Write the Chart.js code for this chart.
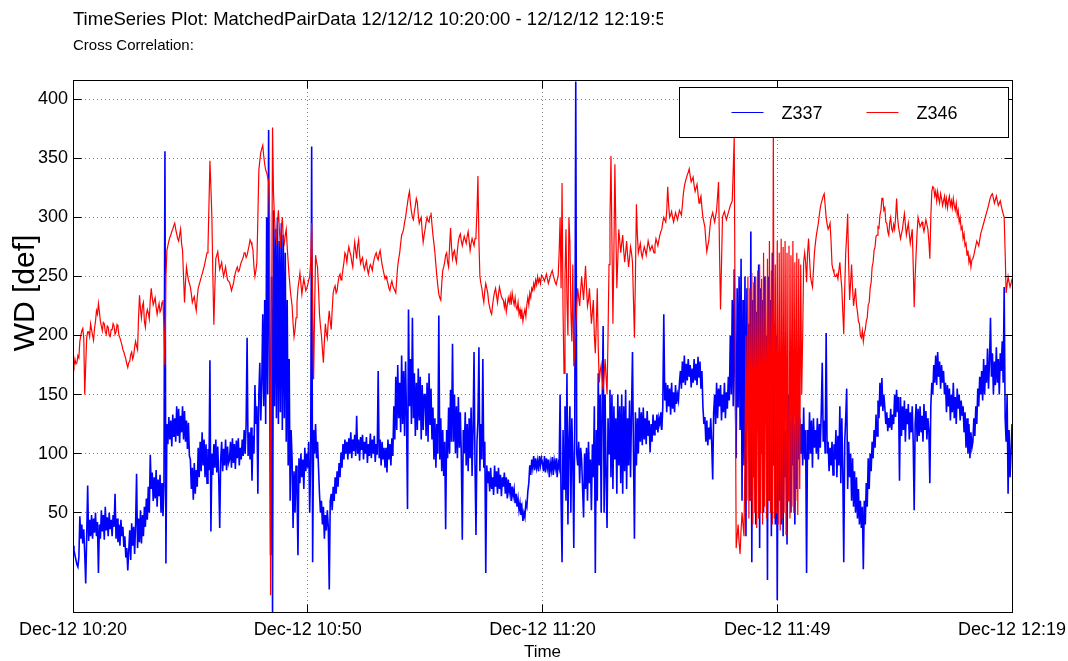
<!DOCTYPE html>
<html>
<head>
<meta charset="utf-8">
<script src="https://cdn.jsdelivr.net/npm/chart.js@4.4.1/dist/chart.umd.min.js"></script>
<style>
  html, body { margin: 0; padding: 0; background: #ffffff; }
  canvas { display: block; }
</style>
</head>
<body>
<canvas id="plot" width="1068" height="661"></canvas>
<script>
// Sampling interval of both records, in minutes after 10:20:00
const STEP_MIN = 0.125;

// Wind direction of station Z337 (one row = 5 minutes)
const z337 = [
  22,18,14,10,6,4,12,47,28,40,24,36,15,-10,30,73,26,44,30,48,28,45,33,50,30,42,-1,40,28,52,34,48,27,55,35,46,30,50,36,44,
  30,48,38,66,28,45,25,40,22,44,30,38,21,30,12,20,1,18,35,10,41,22,38,15,40,83,20,45,25,52,24,48,30,55,38,62,44,72,50,99,
  70,84,60,80,62,86,55,78,64,82,50,75,47,72,356,7,125,108,131,112,128,106,133,114,130,110,140,115,138,109,132,118,140,112,136,110,128,104,126,98,
  95,70,88,61,92,66,86,72,105,80,110,85,118,90,112,80,108,75,104,86,179,34,100,82,108,88,112,84,106,80,37,95,110,85,104,90,112,86,106,92,
  95,110,88,113,92,108,87,111,96,113,90,105,95,112,98,120,100,125,198,98,118,95,122,77,115,100,158,125,140,66,150,177,128,160,218,140,230,125,300,150,
  374,180,14,250,-34,306,140,290,130,300,125,280,135,295,120,285,130,270,110,230,90,180,60,120,95,37,85,50,90,70,14,96,75,100,80,95,70,105,85,100,
  88,110,50,95,360,8,120,100,125,96,110,88,66,50,60,40,55,28,48,35,52,38,-15,60,66,52,72,60,80,66,85,72,92,80,101,88,108,95,112,100,
  110,95,113,100,118,96,112,102,116,98,132,100,112,94,114,103,116,95,110,100,114,92,108,98,117,96,112,100,115,93,108,99,170,96,112,90,110,95,105,88,
  105,84,112,95,108,90,113,98,140,112,165,120,175,130,160,118,183,125,170,115,178,130,53,222,140,180,125,215,130,168,115,160,120,172,128,165,112,158,120,150,
  150,115,160,110,168,125,155,112,139,95,130,88,125,100,217,95,130,85,120,81,110,36,120,96,139,100,154,110,193,110,150,100,140,96,148,105,135,98,27,120,
  100,135,90,125,85,130,96,139,81,120,186,90,31,110,128,190,85,125,95,180,88,110,-1,90,75,85,68,88,70,80,65,90,72,85,66,88,70,82,64,80,
  72,84,66,80,62,78,68,75,60,72,64,70,58,66,55,62,52,58,48,54,43,50,46,58,55,68,75,90,82,95,88,98,86,96,88,94,85,98,90,96,
  92,85,98,84,96,88,95,80,92,86,97,82,94,88,96,80,92,88,150,60,8,120,70,140,60,168,40,110,140,50,130,95,20,130,415,100,90,110,75,105,
  95,70,46,100,70,105,60,110,75,95,52,108,80,140,-1,120,60,168,90,150,50,140,208,50,150,80,37,130,100,154,80,150,70,140,95,130,66,150,90,140,
  75,150,66,140,85,154,70,130,90,145,80,135,186,100,28,135,90,130,100,139,110,135,107,139,112,130,108,136,115,128,101,125,110,133,116,128,120,133,118,130,
  125,135,120,140,218,145,160,135,158,140,155,133,160,138,152,135,158,142,150,145,160,170,155,178,160,183,158,176,162,180,165,175,156,172,160,180,162,176,158,182,
  165,178,155,170,140,125,131,110,128,107,122,112,130,108,78,135,150,125,160,130,155,140,158,128,150,135,160,130,152,138,165,145,200,150,230,140,256,160,96,240,
  139,250,120,265,60,230,90,250,30,240,150,210,60,288,8,230,80,250,40,220,120,260,20,240,100,230,50,250,140,200,-7,250,60,230,30,270,90,210,40,200,
  -24,150,60,154,40,130,30,140,80,120,23,150,60,130,50,140,90,125,40,135,70,150,95,130,100,125,90,139,95,120,-1,120,95,135,100,128,88,130,105,120,
  100,130,95,125,105,135,177,110,128,100,202,100,110,85,105,90,110,82,108,95,120,80,115,90,140,75,130,85,8,110,130,155,70,110,80,100,60,96,55,85,
  50,80,45,70,40,60,37,55,2,60,40,75,55,96,70,100,85,110,96,120,105,133,115,145,130,160,140,164,136,150,139,125,135,119,130,122,138,120,133,125,
  150,131,154,135,148,77,148,115,140,120,145,110,138,125,142,112,135,118,140,110,52,125,142,110,138,115,140,118,132,110,142,120,136,112,130,120,75,140,160,150,
  175,160,183,158,186,165,178,155,175,160,170,150,160,135,158,140,155,128,150,135,160,130,148,125,155,138,150,128,145,132,140,118,135,105,130,100,125,96,118,105,
  110,130,115,140,125,155,140,165,150,170,145,180,150,175,160,189,155,178,215,165,185,150,178,158,190,160,180,150,185,170,195,160,241,130,110,150,66,120,80,100,
  125
];

// Wind direction of station Z346 (one row = 5 minutes)
const z346 = [
  178,174,180,176,177,183,181,195,200,204,206,198,150,175,198,203,203,199,210,205,200,196,206,212,221,218,227,220,212,208,204,211,210,203,201,208,207,200,199,205,
  205,210,208,201,203,209,207,200,198,195,192,188,186,183,180,176,173,177,178,184,186,180,183,190,195,191,188,215,234,222,215,225,228,212,207,218,222,219,214,230,
  240,232,226,229,232,224,218,223,227,220,222,228,230,205,175,250,272,276,280,283,285,288,290,293,295,290,286,282,280,285,290,278,272,250,228,245,258,252,247,244,
  241,235,228,231,233,226,221,232,240,243,246,249,252,255,258,262,266,270,274,310,348,325,300,250,209,240,265,268,271,263,256,259,262,255,250,254,258,252,247,246,
  245,242,238,241,244,249,253,256,258,254,255,259,262,264,266,270,270,266,268,272,276,281,279,276,272,258,250,255,262,300,340,348,355,358,361,352,345,340,338,334,
  330,300,-20,200,376,320,300,285,280,295,306,290,275,290,300,282,278,285,290,275,262,250,240,232,225,210,199,205,215,228,240,246,253,244,235,242,248,243,238,240,
  243,247,250,262,295,230,163,220,268,262,258,240,218,208,200,188,177,195,210,202,198,212,221,212,205,222,236,240,242,236,238,245,250,252,247,250,256,262,270,268,
  262,270,275,271,268,262,258,270,279,272,265,276,281,268,261,264,266,259,256,260,263,256,252,257,260,258,255,261,265,268,270,266,264,269,272,266,260,256,252,248,
  250,247,244,240,238,243,246,242,240,238,236,248,259,265,270,278,285,287,290,296,300,306,312,318,322,312,305,300,298,305,310,316,313,302,295,298,300,288,279,285,
  290,296,300,297,296,301,304,294,285,278,270,260,250,242,235,232,230,244,255,258,262,268,270,262,258,275,291,275,265,270,272,266,262,272,280,284,286,280,276,280,
  284,281,278,284,288,280,272,278,282,279,276,282,285,305,335,280,250,244,240,233,228,238,244,240,236,228,224,220,218,226,232,237,240,234,228,235,241,237,233,231,
  230,224,229,220,226,232,228,234,226,236,230,226,232,224,222,228,218,222,214,220,212,218,222,216,226,232,226,236,232,240,238,244,240,247,243,250,245,248,244,251,
  250,248,246,249,252,248,244,247,250,253,255,251,248,245,243,247,250,270,300,240,329,220,168,250,290,230,200,300,280,220,195,260,174,190,210,225,240,232,225,238,
  250,240,230,245,259,240,225,230,240,225,210,220,230,200,185,210,240,190,160,170,175,162,154,166,180,165,150,200,260,300,352,280,210,270,345,290,240,265,290,280,
  270,278,285,272,262,270,280,268,258,266,275,270,262,230,198,250,311,285,270,274,278,270,266,271,275,272,268,274,280,276,272,274,276,273,270,276,282,279,276,281,
  285,288,290,296,300,298,296,305,326,310,300,302,305,300,296,300,304,301,298,302,306,304,302,310,320,326,330,333,336,338,341,335,330,332,334,327,322,325,328,320,
  312,315,318,308,300,296,292,280,271,276,280,290,298,301,304,300,296,301,306,318,330,270,222,260,300,303,305,301,298,301,304,307,310,312,314,340,368,200,20,30,
  40,25,15,35,50,40,30,100,200,60,250,45,240,60,253,40,245,50,250,37,255,45,260,50,248,40,270,55,250,45,265,60,280,50,255,40,375,45,260,50,
  280,40,270,35,282,45,275,50,280,31,270,60,276,45,268,55,280,50,262,60,270,48,265,70,260,150,200,262,270,262,245,270,282,265,250,245,241,255,270,278,
  285,290,295,302,308,312,315,318,320,310,300,294,290,292,295,280,260,256,253,250,250,252,248,255,262,250,240,220,201,240,270,285,303,260,230,245,260,240,225,232,
  240,226,220,212,210,200,198,204,195,202,205,212,215,226,228,240,245,258,262,272,275,284,285,292,291,302,306,316,316,306,308,296,295,288,285,296,300,290,288,294,
  290,300,316,300,292,287,282,286,290,297,303,294,285,290,295,286,278,284,290,260,224,250,270,288,300,296,292,294,296,292,288,293,298,294,290,280,265,300,322,326,
  325,318,322,314,322,316,312,320,316,310,314,318,310,316,308,314,318,310,314,308,316,310,306,312,302,306,296,300,290,292,282,286,276,278,268,272,262,266,258,264,
  265,268,272,276,280,278,276,281,286,289,292,295,298,301,304,307,310,314,317,319,320,316,312,315,318,314,310,312,314,310,306,303,300,270,236,243,250,245,241,244,
  248
];

const seriesNames = ['Z337', 'Z346'];
const seriesColors = ['#0000ff', '#ff0000'];

// Axis ticks
const xTickMinutes = [0, 30, 60, 90, 120];
const xTickLabels = ['Dec-12 10:20', 'Dec-12 10:50', 'Dec-12 11:20', 'Dec-12 11:49', 'Dec-12 12:19'];
const yTickValues = [50, 100, 150, 200, 250, 300, 350, 400];
const yLimits = [-34.1, 416.3];
const xLimits = [0, 120];

const titleText = 'TimeSeries Plot: MatchedPairData 12/12/12 10:20:00 - 12/12/12 12:19:59';
const subtitleText = 'Cross Correlation:';
const yAxisTitle = 'WD [def]';
const xAxisTitle = 'Time';

const FONT = '"Liberation Sans", Arial, Helvetica, sans-serif';

function toPoints(values) {
  return values.map((v, i) => ({ x: i * STEP_MIN, y: v }));
}

// Snap a 1px line to the pixel grid
function crisp(v) {
  return Math.round(v - 0.5) + 0.5;
}

// Axes box with inward tick marks, legend box and the text above / beside the axes
const framePlugin = {
  id: 'frame',
  afterDraw(chart) {
    const { ctx, chartArea: a, scales } = chart;
    const xs = scales.x, ys = scales.y;
    const L = crisp(a.left), R = crisp(a.right), T = crisp(a.top), B = crisp(a.bottom);
    const tickLen = 8;

    ctx.save();
    ctx.strokeStyle = '#000000';
    ctx.lineWidth = 1;
    ctx.beginPath();
    xs.ticks.forEach(t => {
      const px = crisp(xs.getPixelForValue(t.value));
      ctx.moveTo(px, B); ctx.lineTo(px, B - tickLen);
      ctx.moveTo(px, T); ctx.lineTo(px, T + tickLen);
    });
    ys.ticks.forEach(t => {
      const py = crisp(ys.getPixelForValue(t.value));
      ctx.moveTo(L, py); ctx.lineTo(L + tickLen, py);
      ctx.moveTo(R, py); ctx.lineTo(R - tickLen, py);
    });
    ctx.stroke();
    ctx.strokeRect(L, T, R - L, B - T);

    // Legend in the upper right corner of the axes
    const lx = R - 333, ly = T + 7, lw = 329, lh = 50;
    ctx.fillStyle = '#ffffff';
    ctx.fillRect(lx, ly, lw, lh);
    ctx.strokeRect(lx, ly, lw, lh);
    ctx.font = '18px ' + FONT;
    ctx.textAlign = 'left';
    ctx.textBaseline = 'alphabetic';
    const itemX = [lx + 52, lx + 187];
    chart.data.datasets.forEach((ds, i) => {
      const sx = itemX[i];
      const sy = ly + 25;
      ctx.strokeStyle = ds.borderColor;
      ctx.lineWidth = 1;
      ctx.beginPath();
      ctx.moveTo(sx, sy); ctx.lineTo(sx + 32, sy);
      ctx.stroke();
      ctx.fillStyle = '#000000';
      ctx.fillText(ds.label, sx + 50, sy + 6);
    });

    // Title lines, the first one cut off at the right
    ctx.save();
    ctx.beginPath();
    ctx.rect(0, 0, 663, 32);
    ctx.clip();
    ctx.fillStyle = '#000000';
    ctx.font = '18.5px ' + FONT;
    ctx.fillText(titleText, 73, 25);
    ctx.restore();
    ctx.fillStyle = '#000000';
    ctx.font = '15px ' + FONT;
    ctx.fillText(subtitleText, 73, 50);

    // Vertical axis label
    ctx.save();
    ctx.translate(26, 293);
    ctx.rotate(-Math.PI / 2);
    ctx.font = '30px ' + FONT;
    ctx.textAlign = 'center';
    ctx.textBaseline = 'middle';
    ctx.fillText(yAxisTitle, 0, 0);
    ctx.restore();

    ctx.restore();
  }
};

new Chart(document.getElementById('plot'), {
  type: 'line',
  data: {
    datasets: [
      { label: seriesNames[0], data: toPoints(z337), borderColor: seriesColors[0], borderWidth: 1.6,
        pointRadius: 0, tension: 0, fill: false, order: 2 },
      { label: seriesNames[1], data: toPoints(z346), borderColor: seriesColors[1], borderWidth: 1.2,
        pointRadius: 0, tension: 0, fill: false, order: 1 }
    ]
  },
  options: {
    responsive: false,
    animation: false,
    devicePixelRatio: 1,
    layout: { padding: { left: 0, top: 80, right: 56, bottom: 0 } },
    plugins: { legend: { display: false }, tooltip: { enabled: false } },
    scales: {
      x: {
        type: 'linear',
        min: xLimits[0],
        max: xLimits[1],
        afterBuildTicks: s => { s.ticks = xTickMinutes.map(v => ({ value: v })); },
        afterFit: s => { s.height = 49; s.paddingLeft = 0; s.paddingRight = 0; },
        ticks: {
          autoSkip: false, maxRotation: 0, minRotation: 0, padding: 7, color: '#000000',
          font: { family: FONT, size: 18 },
          callback: (v, i) => xTickLabels[i]
        },
        grid: { color: 'rgba(0,0,0,0.5)', lineWidth: 1, drawTicks: false },
        border: { display: false, dash: [1, 3] },
        title: { display: true, text: xAxisTitle, color: '#000000', font: { family: FONT, size: 17 },
                 padding: { top: 0, bottom: -2 } }
      },
      y: {
        type: 'linear',
        min: yLimits[0],
        max: yLimits[1],
        afterBuildTicks: s => { s.ticks = yTickValues.map(v => ({ value: v })); },
        afterFit: s => { s.width = 73; s.paddingTop = 0; s.paddingBottom = 0; },
        ticks: { padding: 5, color: '#000000', font: { family: FONT, size: 18 },
                 callback: v => String(v) },
        grid: { color: 'rgba(0,0,0,0.5)', lineWidth: 1, drawTicks: false },
        border: { display: false, dash: [1, 3] }
      }
    }
  },
  plugins: [framePlugin]
});
</script>
</body>
</html>
